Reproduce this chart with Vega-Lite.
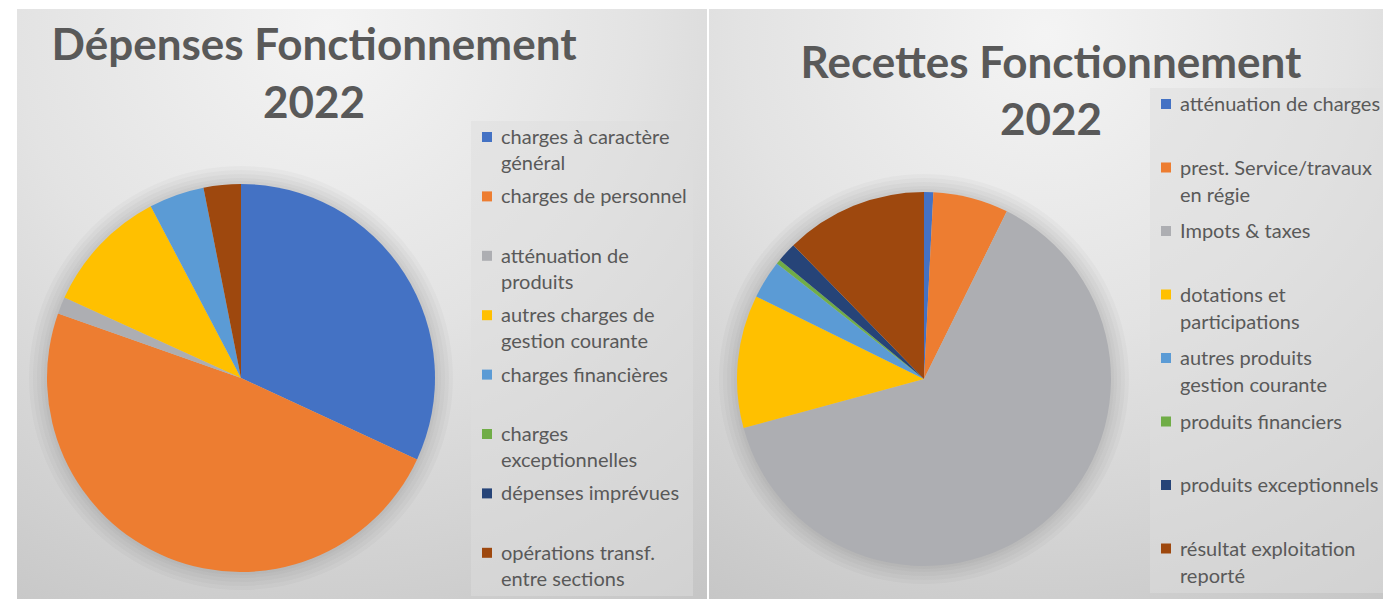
{
  "$schema": "https://vega.github.io/schema/vega-lite/v6.json",
  "background": "white",
  "padding": {"left": 17, "top": 9, "right": 0, "bottom": 0},
  "spacing": 2,
  "config": {
    "view": {"stroke": "#c4c4c4", "strokeWidth": 1},
    "title": {"font": "Lato", "fontSize": 44, "fontWeight": "bold", "color": "#595959", "lineHeight": 58, "anchor": "middle", "baseline": "top"},
    "legend": {"labelFont": "Lato", "labelFontSize": 20, "labelColor": "#595959", "symbolType": "square", "symbolSize": 100, "symbolStrokeWidth": 0, "labelLimit": 400, "labelBaseline": "top", "orient": "none", "labelOffset": 4, "padding": 6, "fillColor": "rgba(222,222,222,0.5)"}
  },
  "resolve": {"scale": {"color": "independent", "theta": "independent"}, "legend": {"color": "independent"}},
  "hconcat": [
    {
      "width": 690,
      "height": 590,
      "title": {"text": ["Dépenses Fonctionnement", "2022"], "offset": -118, "dx": -48},
      "data": {"values": [
        {"cat": "charges à caractère général", "v": 31.9},
        {"cat": "charges de personnel", "v": 48.5},
        {"cat": "atténuation de produits", "v": 1.4},
        {"cat": "autres charges de gestion courante", "v": 10.5},
        {"cat": "charges financières", "v": 4.6},
        {"cat": "charges exceptionnelles", "v": 0},
        {"cat": "dépenses imprévues", "v": 0},
        {"cat": "opérations transf. entre sections", "v": 3.1}
      ]},
      "layer": [
        {
          "transform": [{"aggregate": [{"op": "sum", "field": "v", "as": "total"}]}],
          "mark": {"type": "rect", "fill": {"gradient": "radial", "x1": 0.45, "y1": 0.1, "r1": 0, "x2": 0.45, "y2": 0.1, "r2": 1.0,
            "stops": [{"offset": 0, "color": "#f4f4f4"}, {"offset": 0.45, "color": "#e3e3e3"}, {"offset": 1, "color": "#c5c5c5"}]}},
          "encoding": {}
        },
        {
          "transform": [{"aggregate": [{"op": "sum", "field": "v", "as": "total"}]}],
          "mark": {"type": "arc", "x": 224, "y": 369, "outerRadius": 212, "color": "#000000", "opacity": 0.022},
          "encoding": {"theta": {"field": "total", "type": "quantitative"}}
        },
        {
          "transform": [{"aggregate": [{"op": "sum", "field": "v", "as": "total"}]}],
          "mark": {"type": "arc", "x": 224, "y": 369, "outerRadius": 208, "color": "#000000", "opacity": 0.022},
          "encoding": {"theta": {"field": "total", "type": "quantitative"}}
        },
        {
          "transform": [{"aggregate": [{"op": "sum", "field": "v", "as": "total"}]}],
          "mark": {"type": "arc", "x": 224, "y": 369, "outerRadius": 204, "color": "#000000", "opacity": 0.022},
          "encoding": {"theta": {"field": "total", "type": "quantitative"}}
        },
        {
          "transform": [{"aggregate": [{"op": "sum", "field": "v", "as": "total"}]}],
          "mark": {"type": "arc", "x": 224, "y": 369, "outerRadius": 200, "color": "#000000", "opacity": 0.022},
          "encoding": {"theta": {"field": "total", "type": "quantitative"}}
        },
        {
          "transform": [{"aggregate": [{"op": "sum", "field": "v", "as": "total"}]}],
          "mark": {"type": "arc", "x": 224, "y": 369, "outerRadius": 197, "color": "#000000", "opacity": 0.022},
          "encoding": {"theta": {"field": "total", "type": "quantitative"}}
        },
        {
          "transform": [{"window": [{"op": "row_number", "as": "rang"}]}],
          "mark": {"type": "arc", "x": 224, "y": 369, "outerRadius": 194},
          "encoding": {
            "theta": {"field": "v", "type": "quantitative", "stack": true},
            "order": {"field": "rang", "type": "quantitative", "sort": "ascending"},
            "color": {
              "field": "cat", "type": "nominal",
              "sort": ["charges à caractère général", "charges de personnel", "atténuation de produits", "autres charges de gestion courante", "charges financières", "charges exceptionnelles", "dépenses imprévues", "opérations transf. entre sections"],
              "scale": {
                "domain": ["charges à caractère général", "charges de personnel", "atténuation de produits", "autres charges de gestion courante", "charges financières", "charges exceptionnelles", "dépenses imprévues", "opérations transf. entre sections"],
                "range": ["#4472C4", "#ED7D31", "#ADAEB2", "#FFC000", "#5B9BD5", "#70AD47", "#264478", "#9E480E"]
              },
              "legend": {
                "title": null,
                "legendX": 454,
                "legendY": 112,
                "rowPadding": 12.4,
                "labelExpr": "datum.label == 'charges à caractère général' ? ['charges à caractère', 'général'] : datum.label == 'atténuation de produits' ? [' atténuation de', 'produits'] : datum.label == 'autres charges de gestion courante' ? ['autres charges de', 'gestion courante'] : datum.label == 'charges exceptionnelles' ? ['charges', 'exceptionnelles'] : datum.label == 'opérations transf. entre sections' ? ['opérations transf.', 'entre sections'] : [datum.label, '']",
                "encode": {"labels": {"update": {"lineHeight": {"value": 26}, "dy": {"value": -9}}}}
              }
            }
          }
        }
      ]
    },
    {
      "width": 674,
      "height": 590,
      "title": {"text": ["Recettes Fonctionnement", "2022"], "offset": -135, "dx": 5, "lineHeight": 57},
      "data": {"values": [
        {"cat": "atténuation de charges", "v": 0.8},
        {"cat": "prest. Service/travaux en régie", "v": 6.5},
        {"cat": "Impots & taxes", "v": 63.4},
        {"cat": "dotations et participations", "v": 11.5},
        {"cat": "autres produits gestion courante", "v": 3.3},
        {"cat": "produits financiers", "v": 0.4},
        {"cat": "produits exceptionnels", "v": 1.7},
        {"cat": "résultat exploitation reporté", "v": 12.3}
      ]},
      "layer": [
        {
          "transform": [{"aggregate": [{"op": "sum", "field": "v", "as": "total"}]}],
          "mark": {"type": "rect", "fill": {"gradient": "radial", "x1": 0.5, "y1": 0.1, "r1": 0, "x2": 0.5, "y2": 0.1, "r2": 1.0,
            "stops": [{"offset": 0, "color": "#f4f4f4"}, {"offset": 0.45, "color": "#e3e3e3"}, {"offset": 1, "color": "#c5c5c5"}]}},
          "encoding": {}
        },
        {
          "transform": [{"aggregate": [{"op": "sum", "field": "v", "as": "total"}]}],
          "mark": {"type": "arc", "x": 215, "y": 370, "outerRadius": 205, "color": "#000000", "opacity": 0.022},
          "encoding": {"theta": {"field": "total", "type": "quantitative"}}
        },
        {
          "transform": [{"aggregate": [{"op": "sum", "field": "v", "as": "total"}]}],
          "mark": {"type": "arc", "x": 215, "y": 370, "outerRadius": 201, "color": "#000000", "opacity": 0.022},
          "encoding": {"theta": {"field": "total", "type": "quantitative"}}
        },
        {
          "transform": [{"aggregate": [{"op": "sum", "field": "v", "as": "total"}]}],
          "mark": {"type": "arc", "x": 215, "y": 370, "outerRadius": 197, "color": "#000000", "opacity": 0.022},
          "encoding": {"theta": {"field": "total", "type": "quantitative"}}
        },
        {
          "transform": [{"aggregate": [{"op": "sum", "field": "v", "as": "total"}]}],
          "mark": {"type": "arc", "x": 215, "y": 370, "outerRadius": 193, "color": "#000000", "opacity": 0.022},
          "encoding": {"theta": {"field": "total", "type": "quantitative"}}
        },
        {
          "transform": [{"aggregate": [{"op": "sum", "field": "v", "as": "total"}]}],
          "mark": {"type": "arc", "x": 215, "y": 370, "outerRadius": 190, "color": "#000000", "opacity": 0.022},
          "encoding": {"theta": {"field": "total", "type": "quantitative"}}
        },
        {
          "transform": [{"window": [{"op": "row_number", "as": "rang"}]}],
          "mark": {"type": "arc", "x": 215, "y": 370, "outerRadius": 187},
          "encoding": {
            "theta": {"field": "v", "type": "quantitative", "stack": true},
            "order": {"field": "rang", "type": "quantitative", "sort": "ascending"},
            "color": {
              "field": "cat", "type": "nominal",
              "sort": ["atténuation de charges", "prest. Service/travaux en régie", "Impots & taxes", "dotations et participations", "autres produits gestion courante", "produits financiers", "produits exceptionnels", "résultat exploitation reporté"],
              "scale": {
                "domain": ["atténuation de charges", "prest. Service/travaux en régie", "Impots & taxes", "dotations et participations", "autres produits gestion courante", "produits financiers", "produits exceptionnels", "résultat exploitation reporté"],
                "range": ["#4472C4", "#ED7D31", "#ADAEB2", "#FFC000", "#5B9BD5", "#70AD47", "#264478", "#9E480E"]
              },
              "legend": {
                "title": null,
                "legendX": 441,
                "legendY": 79,
                "rowPadding": 15.5,
                "labelExpr": "datum.label == 'prest. Service/travaux en régie' ? ['prest. Service/travaux', 'en régie'] : datum.label == 'dotations et participations' ? ['dotations et', 'participations'] : datum.label == 'autres produits gestion courante' ? ['autres produits', 'gestion courante'] : datum.label == 'résultat exploitation reporté' ? ['résultat exploitation', 'reporté'] : [datum.label, '']",
                "encode": {"labels": {"update": {"lineHeight": {"value": 27}, "dy": {"value": -9}}}}
              }
            }
          }
        }
      ]
    }
  ]
}
